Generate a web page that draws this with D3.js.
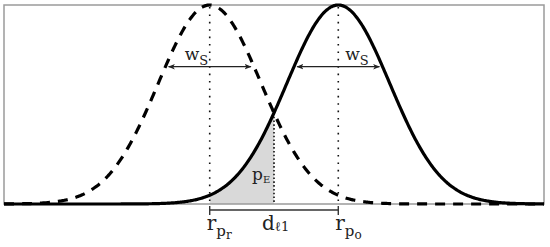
<!DOCTYPE html>
<html>
<head>
<meta charset="utf-8">
<script src="https://cdn.jsdelivr.net/npm/d3@7"></script>
<style>
  body { margin: 0; background: #fff; }
  text { font-family: "DejaVu Serif", serif; fill: #222; }
</style>
</head>
<body>
<svg id="chart" width="550" height="247"></svg>
<script>
// peak positions (in units of the spread) and shared spread
let centers = [0, 2.5];          // r_pr (dashed), r_po (solid)
let spread = 1;
let dPos = 1.25;                 // d_l1, where the two curves cross
let xDomain = [-4, 6.5];
let arrowLevel = 0.69;           // height of the w_S arrows
let arrowHalf = 0.8;             // half length of the w_S arrows
let labels = ["r", "d", "r"];

let svg = d3.select("#chart");
let x = d3.scaleLinear().domain(xDomain).range([4, 544]);
let y = d3.scaleLinear().domain([0, 1]).range([204, 5]);

function bell(c) {
  return function (v) {
    return Math.exp(-((v - c) * (v - c)) / (2 * spread * spread));
  };
}

let xs = d3.range(xDomain[0], xDomain[1] + 0.001, 0.02);
let line = d3.line().x(d => x(d[0])).y(d => y(d[1])).curve(d3.curveBasis);
let area = d3.area().x(d => x(d[0])).y0(y(0)).y1(d => y(d[1]));

// shaded p_E region under the solid curve between r_pr and d_l1
let fillPts = d3.range(centers[0], dPos + 0.001, 0.01).map(v => [v, bell(centers[1])(v)]);
svg.append("path").attr("d", area(fillPts)).attr("fill", "#d9d9d9");

// frame
svg.append("rect")
  .attr("x", x(xDomain[0])).attr("y", y(1))
  .attr("width", x(xDomain[1]) - x(xDomain[0]))
  .attr("height", y(0) - y(1))
  .attr("fill", "none").attr("stroke", "#9a9a9a").attr("stroke-width", 1.5);

// dotted verticals
centers.forEach(function (c) {
  svg.append("line")
    .attr("x1", x(c)).attr("x2", x(c))
    .attr("y1", y(1) + 2).attr("y2", y(0))
    .attr("stroke", "#111").attr("stroke-width", 1.6)
    .attr("stroke-dasharray", "1.6,5.8");
});
svg.append("line")
  .attr("x1", x(dPos)).attr("x2", x(dPos))
  .attr("y1", y(bell(centers[1])(dPos))).attr("y2", y(0))
  .attr("stroke", "#111").attr("stroke-width", 1.6)
  .attr("stroke-dasharray", "1.6,2.2");

// curves
svg.append("path")
  .attr("d", line(xs.map(v => [v, bell(centers[0])(v)])))
  .attr("fill", "none").attr("stroke", "#000").attr("stroke-width", 3.2)
  .attr("stroke-dasharray", "10,8");
svg.append("path")
  .attr("d", line(xs.map(v => [v, bell(centers[1])(v)])))
  .attr("fill", "none").attr("stroke", "#000").attr("stroke-width", 3.2);

// arrow markers
let defs = svg.append("defs");
defs.append("marker").attr("id", "arr")
  .attr("viewBox", "0 0 10 10").attr("refX", 9).attr("refY", 5)
  .attr("markerWidth", 7).attr("markerHeight", 7)
  .attr("markerUnits", "userSpaceOnUse")
  .attr("orient", "auto-start-reverse")
  .append("path").attr("d", "M0,1 L10,5 L0,9 L2.5,5 Z").attr("fill", "#222");

centers.forEach(function (c) {
  svg.append("line")
    .attr("x1", x(c - arrowHalf)).attr("x2", x(c + arrowHalf))
    .attr("y1", y(arrowLevel)).attr("y2", y(arrowLevel))
    .attr("stroke", "#222").attr("stroke-width", 1.2)
    .attr("marker-start", "url(#arr)").attr("marker-end", "url(#arr)");
});

// w_S labels
[[centers[0], -25], [centers[1], 7]].forEach(function (p) {
  let t = svg.append("text").attr("x", x(p[0]) + p[1]).attr("y", 60).style("font-size", "17px");
  t.append("tspan").text("w");
  t.append("tspan").attr("dy", 5).style("font-size", "13px").text("S");
});

// bracket between r_pr and r_po
let by = 210;
svg.append("line").attr("x1", x(centers[0])).attr("x2", x(centers[1]))
  .attr("y1", by).attr("y2", by).attr("stroke", "#333").attr("stroke-width", 1.4);
centers.forEach(function (c) {
  svg.append("line").attr("x1", x(c)).attr("x2", x(c))
    .attr("y1", by - 4).attr("y2", by + 5).attr("stroke", "#333").attr("stroke-width", 1.4);
});

// p_E label
let pe = svg.append("text").attr("x", x(dPos) - 22).attr("y", 180).style("font-size", "17px");
pe.append("tspan").text("p");
pe.append("tspan").attr("dy", 3).style("font-size", "10px").text("E");

// bottom labels
let subs = [["p", "r"], ["ℓ1", null], ["p", "o"]];
[centers[0], dPos, centers[1]].forEach(function (c, i) {
  let off = i == 1 ? -12 : -3;
  let t = svg.append("text").attr("x", x(c) + off).attr("y", 230).style("font-size", "20px");
  t.append("tspan").text(labels[i]);
  t.append("tspan").attr("dy", i == 1 ? 1 : 6).style("font-size", i == 1 ? "13px" : "15px").text(subs[i][0]);
  if (subs[i][1]) {
    t.append("tspan").attr("dy", 3).style("font-size", "12px").text(subs[i][1]);
  }
});
</script>
</body>
</html>
